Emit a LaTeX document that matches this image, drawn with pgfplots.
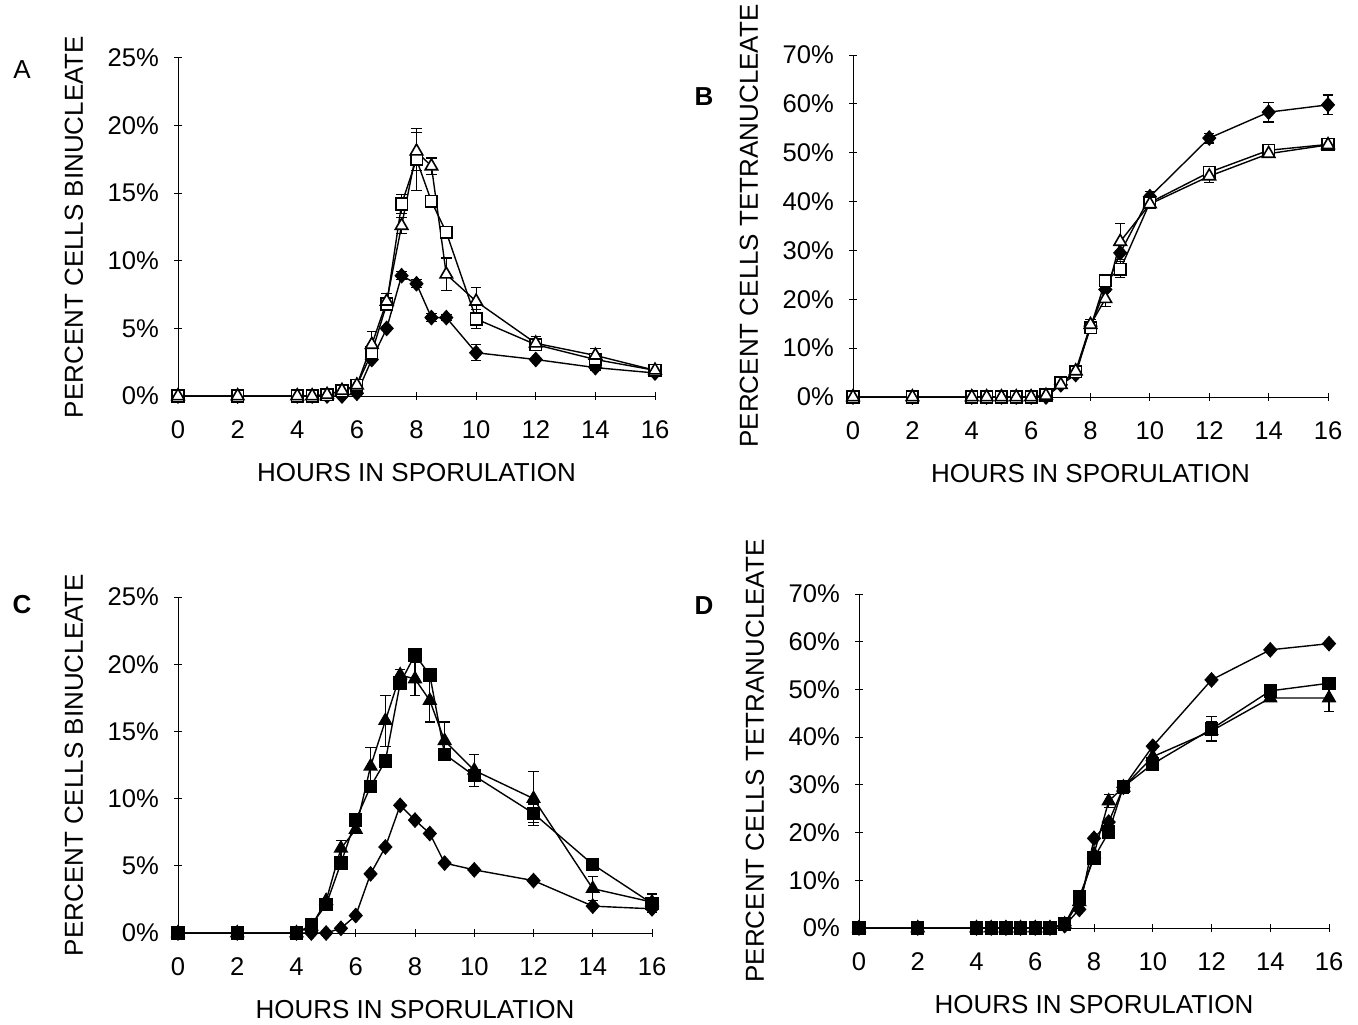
\documentclass[border=0pt]{standalone}
\usepackage{pgfplots}
\pgfplotsset{compat=1.18}
\usepackage{pgfplotstable}
\usepackage{fontspec}
\setmainfont{Liberation Sans}

\pgfplotstableread{
t    d    de   s    se   r    re
0    0    0    0    0    0    0
2    0    0    0    0    0    0
4    0    0    0    0    0    0
4.5  0    0    0    0    0    0
5    0    0    0.1  0    0.1  0
5.5  0    0    0.4  0    0.4  0
6    0.2  0    0.8  0    0.8  0
6.5  2.7  0    3.2  0.5  3.8  1.0
7    5.0  0    6.8  0    7.0  0.6
7.5  8.9  0.3  14.2 0.7  12.6 0.6
8    8.3  0.3  17.5 2.3  18.1 1.4
8.5  5.8  0.3  14.4 0    17.0 0.6
9    5.8  0.2  12.1 0    9.0  1.2
10   3.2  0.6  5.7  0.7  7.0  1.0
12   2.7  0    3.8  0.4  3.9  0.5
14   2.1  0.2  2.7  0    3.0  0.5
16   1.7  0    1.9  0    1.9  0
}\dataA

\pgfplotstableread{
t    d    de   s    se   r    re
0    0    0    0    0    0    0
2    0    0    0    0    0    0
4    0    0    0    0    0    0
4.5  0    0    0    0    0    0
5    0    0    0    0    0    0
5.5  0    0    0    0    0    0
6    0    0    0    0    0    0
6.5  0    0    0.4  0    0.3  0
7    2.5  0    2.9  0    2.5  0
7.5  4.6  0    5.2  0    5.3  0
8    14.5 0    14.2 1.0  14.8 1.0
8.5  22.0 0    23.8 0    20.1 1.5
9    29.5 0    26.1 1.7  31.8 3.7
10   41.0 1.0  39.8 0    39.5 0
12   53.0 1.0  46.0 0    45.2 1.3
14   58.3 2.0  50.5 0    49.8 0
16   59.8 2.0  51.7 0    51.6 0
}\dataB

\pgfplotstableread{
t    d    de   s    se   r    re
0    0    0    0    0    0    0
2    0    0    0    0    0    0
4    0    0    0    0    0    0
4.5  0    0    0.6  0    0.5  0
5    0    0    2.1  0    2.4  0
5.5  0.35 0    5.2  0    6.3  0.6
6    1.3  0    8.4  0    7.7  0
6.5  4.4  0    10.9 0    12.4 1.4
7    6.4  0    12.8 0    15.8 1.9
7.5  9.5  0    18.6 0    19.2 0.4
8    8.4  0    20.7 0    18.9 1.2
8.5  7.4  0    19.2 0    17.3 1.6
9    5.2  0    13.3 0    14.3 1.4
10   4.7  0    11.7 0    12.1 1.2
12   3.9  0    8.9  0.7  10.0 2.0
14   2.0  0    5.1  0    3.3  0.9
16   1.8  0    2.2  0.7  2.3  0.6
}\dataC

\pgfplotstableread{
t    d    de   s    se   r    re
0    0    0    0    0    0    0
2    0    0    0    0    0    0
4    0    0    0    0    0    0
4.5  0    0    0    0    0    0
5    0    0    0    0    0    0
5.5  0    0    0    0    0    0
6    0    0    0    0    0    0
6.5  0    0    0    0    0    0
7    0.5  0    0.8  0    0.8  0
7.5  3.9  0    6.5  0    5.5  0
8    18.8 0    14.7 0    15.5 0
8.5  22.2 0    20.1 0    26.6 1.3
9    29.5 0    29.6 1.3  29.5 0
10   38.1 0    34.4 0    35.9 0
12   52.0 0    41.7 2.6  41.3 2.0
14   58.3 0    49.7 0.8  48.2 0
16   59.6 0    51.3 0    48.2 2.9
}\dataD

\newcommand{\lblfont}{\fontsize{13}{15}\selectfont}
\newcommand{\tckfont}{\fontsize{12.8}{15}\selectfont}
\pgfplotsset{
  panel/.style={
    scale only axis, clip=false,
    axis x line*=bottom, axis y line*=left,
    axis line style={-, line width=0.5pt},
    xmin=0, xmax=16, xtick={0,2,...,16},
    tick align=center, major tick length=4pt,
    tick style={line width=0.5pt, black},
    /pgf/number format/assume math mode=true,
    tick label style={font=\tckfont},
    xticklabel style={yshift=-7pt},
    yticklabel style={xshift=-4pt},
    xlabel={HOURS IN SPORULATION},
    every axis x label/.style={at={(axis description cs:0.5,0)}, yshift=-38.5pt, anchor=center, font=\lblfont},
    every axis y label/.style={at={(axis description cs:0,0.5)}, xshift=-52pt, rotate=90, anchor=center, font=\lblfont},
    every axis plot/.append style={black, line width=0.7pt},
    error bars/error bar style={line width=0.6pt, black},
    error bars/error mark options={rotate=90, mark size=2.6pt, line width=0.6pt, black},
  },
  dia/.style={mark=diamond*, mark size=3.6pt, mark options={fill=black, solid, line width=0.5pt, xscale=1.2}},
  osq/.style={mark=square*, mark size=2.9pt, mark options={fill=white, solid, line width=0.8pt}},
  otr/.style={mark=triangle*, mark size=3.6pt, mark options={fill=white, solid, line width=0.8pt}},
  fsq/.style={mark=square*, mark size=3pt, mark options={fill=black, solid}},
  ftr/.style={mark=triangle*, mark size=3.6pt, mark options={fill=black, solid}},
  ebar/.style={error bars/.cd, y dir=both, y explicit},
}

\begin{document}
\begin{tikzpicture}
\useasboundingbox (0,0) rectangle (679pt,512pt);

% Panel A
\begin{axis}[panel, at={(89pt,314pt)}, anchor=south west,
  width=238.5pt, height=169pt, ymin=0, ymax=25,
  ytick={0,5,...,25}, yticklabels={0\%,5\%,10\%,15\%,20\%,25\%},
  ylabel={PERCENT CELLS BINUCLEATE}]
\addplot[dia, ebar] table[x=t, y=d, y error=de] {\dataA};
\addplot[osq, ebar] table[x=t, y=s, y error=se] {\dataA};
\addplot[otr, ebar] table[x=t, y=r, y error=re] {\dataA};
\end{axis}

% Panel B
\begin{axis}[panel, at={(426.5pt,313.5pt)}, anchor=south west,
  width=237.5pt, height=171pt, ymin=0, ymax=70,
  ytick={0,10,...,70}, yticklabels={0\%,10\%,20\%,30\%,40\%,50\%,60\%,70\%},
  ylabel={PERCENT CELLS TETRANUCLEATE}]
\addplot[dia, ebar] table[x=t, y=d, y error=de] {\dataB};
\addplot[osq, ebar] table[x=t, y=s, y error=se] {\dataB};
\addplot[otr, ebar] table[x=t, y=r, y error=re] {\dataB};
\end{axis}

% Panel C
\begin{axis}[panel, at={(89pt,45.5pt)}, anchor=south west,
  width=237pt, height=168pt, ymin=0, ymax=25,
  ytick={0,5,...,25}, yticklabels={0\%,5\%,10\%,15\%,20\%,25\%},
  ylabel={PERCENT CELLS BINUCLEATE}]
\addplot[dia, ebar] table[x=t, y=d, y error=de] {\dataC};
\addplot[ftr, ebar] table[x=t, y=r, y error=re] {\dataC};
\addplot[fsq, ebar] table[x=t, y=s, y error=se] {\dataC};
\end{axis}

% Panel D
\begin{axis}[panel, at={(429.5pt,48pt)}, anchor=south west,
  width=235pt, height=167pt, ymin=0, ymax=70,
  ytick={0,10,...,70}, yticklabels={0\%,10\%,20\%,30\%,40\%,50\%,60\%,70\%},
  ylabel={PERCENT CELLS TETRANUCLEATE}]
\addplot[dia, ebar] table[x=t, y=d, y error=de] {\dataD};
\addplot[ftr, ebar] table[x=t, y=r, y error=re] {\dataD};
\addplot[fsq, ebar] table[x=t, y=s, y error=se] {\dataD};
\end{axis}

\node[font=\lblfont] at (11pt,477pt) {A};
\node[font=\lblfont\bfseries] at (352pt,463.5pt) {B};
\node[font=\lblfont\bfseries] at (11pt,209.5pt) {C};
\node[font=\lblfont\bfseries] at (352pt,209pt) {D};
\end{tikzpicture}
\end{document}
